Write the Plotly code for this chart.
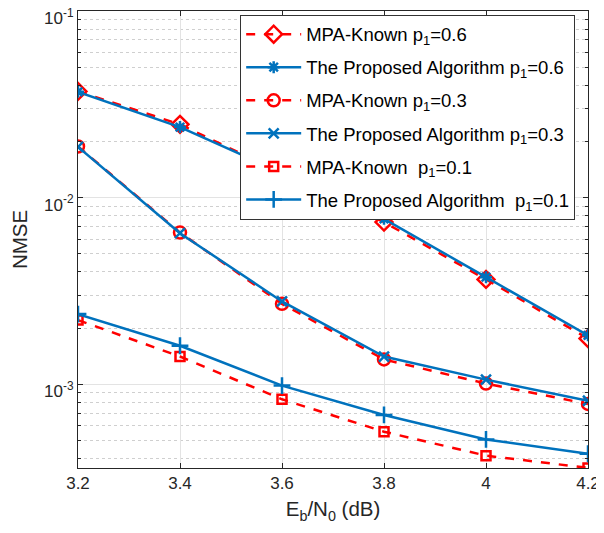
import plotly.graph_objects as go

snr = [3.2, 3.4, 3.6, 3.8, 4.0, 4.2]

mpa_p06 = [0.0371, 0.0247, 0.0135, 0.0074, 0.00365, 0.00176]
prop_p06 = [0.0369, 0.0239, 0.0136, 0.0077, 0.00375, 0.00183]
mpa_p03 = [0.0188, 0.00650, 0.00270, 0.00136, 0.00101, 0.000785]
prop_p03 = [0.0187, 0.00645, 0.00278, 0.00141, 0.00106, 0.000817]
mpa_p01 = [0.00221, 0.00141, 0.000832, 0.000558, 0.000415, 0.000357]
prop_p01 = [0.00238, 0.00161, 0.000985, 0.000686, 0.000507, 0.000425]

names = [
    "MPA-Known p<sub>1</sub>=0.6",
    "The Proposed Algorithm p<sub>1</sub>=0.6",
    "MPA-Known p<sub>1</sub>=0.3",
    "The Proposed Algorithm p<sub>1</sub>=0.3",
    "MPA-Known  p<sub>1</sub>=0.1",
    "The Proposed Algorithm  p<sub>1</sub>=0.1",
]

x_ticks = [3.2, 3.4, 3.6, 3.8, 4.0, 4.2]
x_ticktext = ["3.2", "3.4", "3.6", "3.8", "4", "4.2"]
y_ticks = [1e-3, 1e-2, 1e-1]
y_ticktext = ["10<sup>-3</sup>", "10<sup>-2</sup>", "10<sup>-1</sup>"]

RED = "#FF0000"
BLUE = "#0072BD"

series = [
    (mpa_p06, RED, "dash", "diamond-open", 13),
    (prop_p06, BLUE, "solid", "asterisk-open", 10),
    (mpa_p03, RED, "dash", "circle-open", 12),
    (prop_p03, BLUE, "solid", "x-thin-open", 10),
    (mpa_p01, RED, "dash", "square-open", 9),
    (prop_p01, BLUE, "solid", "cross-thin-open", 12),
]

fig = go.Figure()
for i, (vals, col, dash, sym, sz) in enumerate(series):
    fig.add_trace(go.Scatter(
        x=snr, y=vals, name=names[i], mode="lines+markers",
        legendgroup=f"g{i}",
        line=dict(color=col, width=2.5, dash=dash),
        marker=dict(symbol=sym, size=sz, color=col, line=dict(color=col, width=2.5)),
    ))

minor_vals = []
for d in [1e-4, 1e-3, 1e-2]:
    for k in range(2, 10):
        minor_vals.append(k * d)

fig.update_layout(
    width=596, height=517,
    margin=dict(l=70, r=16, t=3, b=57),
    paper_bgcolor="white", plot_bgcolor="white",
    font=dict(family="Liberation Sans, Arial, sans-serif", size=17, color="#262626"),
    showlegend=True,
    legend=dict(
        x=0.318, y=0.992, xanchor="left", yanchor="top",
        bgcolor="white", bordercolor="#333333", borderwidth=1,
        font=dict(size=18.5, color="#000000"),
        tracegroupgap=6, itemwidth=55,
    ),
)

fig.update_xaxes(
    range=[3.2, 4.2], automargin=False, ticklabeloverflow="allow",
    tickvals=x_ticks, ticktext=x_ticktext,
    ticks="inside", ticklen=5, tickcolor="#262626",
    showline=True, linecolor="#262626", linewidth=1, mirror="ticks",
    showgrid=True, gridcolor="#E3E3E3", gridwidth=1,
    zeroline=False,
    title=dict(text="E<sub>b</sub>/N<sub>0</sub> (dB)", font=dict(size=20.5), standoff=9),
    tickfont=dict(size=17),
)

fig.update_yaxes(
    type="log", automargin=False, ticklabeloverflow="allow",
    range=[-3.448, -1],
    tickvals=y_ticks, ticktext=y_ticktext, ticklabelshift=7,
    ticks="inside", ticklen=5, tickcolor="#262626",
    showline=True, linecolor="#262626", linewidth=1, mirror="ticks",
    showgrid=True, gridcolor="#E3E3E3", gridwidth=1,
    zeroline=False,
    minor=dict(tickvals=minor_vals, ticks="inside", ticklen=3, tickcolor="#262626",
               showgrid=True, gridcolor="#CFCFCF", griddash="dot", gridwidth=1),
    title=dict(text="NMSE", font=dict(size=20.5), standoff=12),
    tickfont=dict(size=17),
)

fig.write_html("out.html")
